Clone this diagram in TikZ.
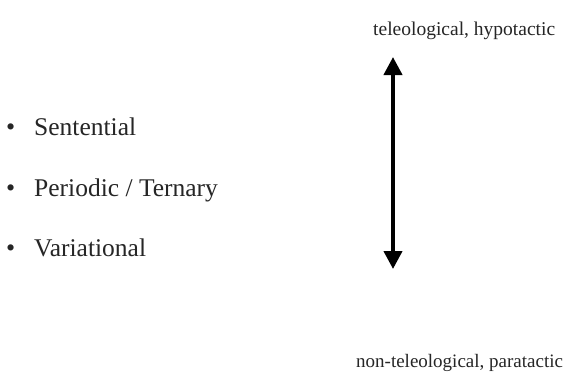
\documentclass[tikz,border=0pt]{standalone}
\usepackage{fontspec}
\setmainfont{Liberation Serif}
\usetikzlibrary{arrows.meta}
\begin{document}
\begin{tikzpicture}[x=1pt,y=-1pt,
  label text/.style={inner sep=0pt,font=\fontsize{19.5}{22}\selectfont,text=black!85},
  item text/.style={inner sep=0pt,font=\fontsize{25.5}{30}\selectfont,text=black!85},
  bulletmark/.style={inner sep=0pt,font=\fontsize{26}{28}\selectfont,text=black!85},
  scale arrow/.style={line width=4pt,
    {Triangle[width=18pt,length=18pt]}-{Triangle[width=18pt,length=18pt]}}]
  \useasboundingbox[fill=white] (0,0) rectangle (563,381);
  % end labels of the scale
  \node[label text,anchor=base west] (top) at (373,35) {teleological, hypotactic};
  \node[label text,anchor=base west,font=\fontsize{19}{22}\selectfont] (bottom) at (356,367) {non-teleological, paratactic};
  % double-headed scale arrow
  \coordinate (up) at (393,57);
  \coordinate (down) at (393,269);
  \draw[scale arrow] (down) -- (up);
  % bulleted list
  \node[bulletmark,anchor=base west] (b1) at (6,135) {•};
  \node[item text,anchor=base west] (t1) at (34,135) {Sentential};
  \node[bulletmark,anchor=base west] (b2) at (6,196) {•};
  \node[item text,anchor=base west] (t2) at (34,196) {Periodic / Ternary};
  \node[bulletmark,anchor=base west] (b3) at (6,256) {•};
  \node[item text,anchor=base west] (t3) at (34,256) {Variational};
\end{tikzpicture}
\end{document}
